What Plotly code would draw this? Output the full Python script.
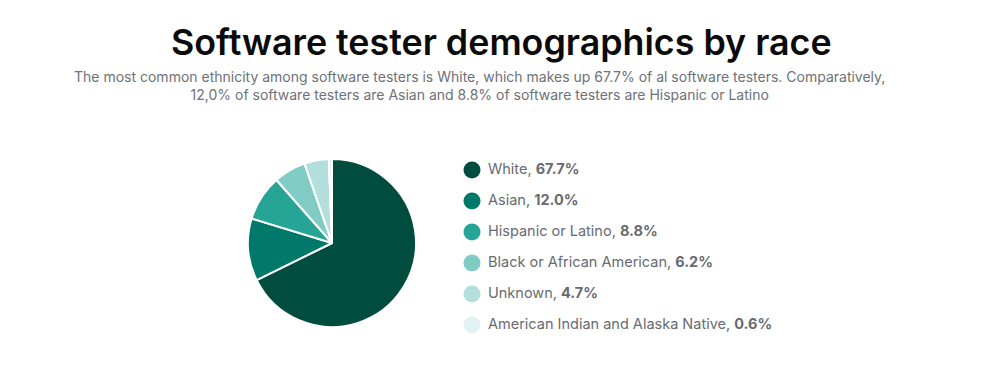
import plotly.graph_objects as go

categories = ["White", "Asian", "Hispanic or Latino", "Black or African American",
              "Unknown", "American Indian and Alaska Native"]
values = [67.7, 12.0, 8.8, 6.2, 4.7, 0.6]
colors = ["#004c3f", "#00786a", "#26a596", "#80cbc3", "#b2dfdb", "#e0f2f1"]

title = "Software tester demographics by race"
subtitle = ("The most common ethnicity among software testers is White, which makes up 67.7% of al software testers. Comparatively,<br>"
            "12,0% of software testers are Asian and 8.8% of software testers are Hispanic or Latino")

# page has an 8px body margin, so the figure is 992x375
W, H = 992, 375
fig = go.Figure()

fig.add_trace(go.Pie(
    labels=categories, values=values, sort=False, direction="clockwise", rotation=0,
    marker=dict(colors=colors, line=dict(color="white", width=2)),
    textinfo="none", hoverinfo="label+percent", showlegend=False,
    domain=dict(x=[240 / W, 408 / W], y=[56 / H, 224 / H]),
))

idx = list(range(len(categories)))
fig.add_trace(go.Scatter(
    x=[464] * len(categories), y=[-i for i in idx],
    mode="markers",
    marker=dict(size=17, color=colors),
    hoverinfo="skip", showlegend=False,
))
fig.add_trace(go.Scatter(
    x=[480] * len(categories), y=[-i for i in idx],
    mode="text",
    text=[f"{c}, <b>{v:.1f}%</b>" for c, v in zip(categories, values)],
    textposition="middle right",
    textfont=dict(family="Inter", size=14.5, color="#676b72"),
    hoverinfo="skip", showlegend=False,
))

ymax = 162 / 31
ymin = ymax - H / 31
fig.update_layout(
    width=W, height=H, margin=dict(l=0, r=0, t=0, b=0),
    paper_bgcolor="white", plot_bgcolor="white",
    xaxis=dict(range=[0, W], visible=False, fixedrange=True),
    yaxis=dict(range=[ymin, ymax], visible=False, fixedrange=True),
    font=dict(family="Inter"),
    annotations=[
        dict(text=title, x=493 / W, y=1 - 34 / H, xref="paper", yref="paper",
             xanchor="center", yanchor="middle", showarrow=False,
             font=dict(family="Inter", size=35.8, color="#0b0b0b", weight=600)),
        dict(text=subtitle, x=471 / W, y=1 - 78 / H, xref="paper", yref="paper",
             xanchor="center", yanchor="middle", showarrow=False, align="center",
             font=dict(family="Inter", size=14, color="#6e7178")),
    ],
)

fig.write_html("out.html")
